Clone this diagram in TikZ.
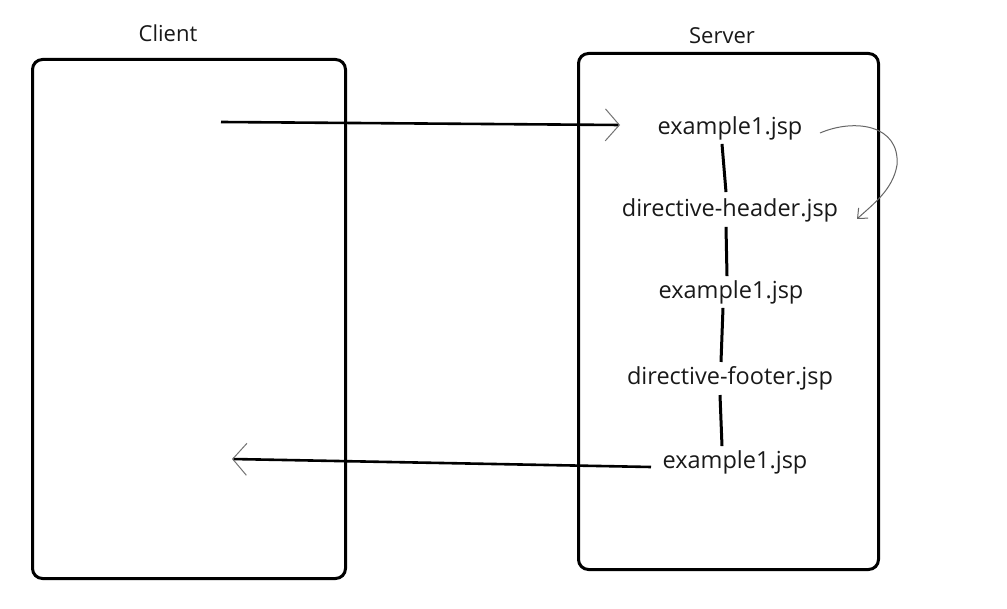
\documentclass[tikz,border=0pt]{standalone}
\usepackage{fontspec}
\setmainfont{Open Sans}
\usetikzlibrary{arrows.meta}
\begin{document}
\begin{tikzpicture}[x=1pt,y=-1pt,
  panel/.style={draw=black,line width=3pt,rounded corners=10pt},
  title/.style={font=\fontsize{22}{26}\selectfont,text=black!90},
  file/.style={font=\fontsize{23.5}{27}\selectfont,text=black!90,inner sep=0pt},
  link/.style={line width=3pt,black},
  flow/.style={line width=2.6pt,black,-{Straight Barb[length=14pt,width=32pt,line width=1pt,color=black!55]}},
  loopback/.style={line width=1pt,black!60,-{Straight Barb[length=8pt,width=14pt,line width=1pt]}}]
\useasboundingbox (0,0) rectangle (1007,609);
\fill[white] (0,0) rectangle (1007,609);
% panels
\node[panel,minimum width=313pt,minimum height=519pt,anchor=north west] (client) at (31,58) {};
\node[panel,minimum width=300pt,minimum height=516pt,anchor=north west] (server) at (577,52) {};
\node[title] (clientlbl) at (168,33) {Client};
\node[title] (serverlbl) at (722,36) {Server};
% files
\node[file] (ex1) at (730,128) {example1.jsp};
\node[file] (hdr) at (730,210) {directive-header.jsp};
\node[file] (ex2) at (731,292) {example1.jsp};
\node[file] (ftr) at (730,378) {directive-footer.jsp};
\node[file] (ex3) at (735,462) {example1.jsp};
% links
\draw[link] ([xshift=-8pt,yshift=-4pt]ex1.south) -- ([xshift=-4pt,yshift=6pt]hdr.north);
\draw[link] ([xshift=-4pt,yshift=-5pt]hdr.south) -- ([xshift=-4pt,yshift=4pt]ex2.north);
\draw[link] ([xshift=-8pt,yshift=-4pt]ex2.south) -- ([xshift=-9pt,yshift=4pt]ftr.north);
\draw[link] ([xshift=-10pt,yshift=-5pt]ftr.south) -- ([xshift=-13pt,yshift=4pt]ex3.north);
% request / response
\coordinate (reqstart) at (221,122);
\coordinate (reqend) at (620,125);
\coordinate (respstart) at (651,467);
\coordinate (respend) at (232,459);
\draw[flow] (reqstart) -- (reqend);
\draw[flow] (respstart) -- (respend);
% loop arrow
\coordinate (loopstart) at (820,133);
\coordinate (loopmid) at (897,165);
\coordinate (loopend) at (857,219);
\draw[loopback] (loopstart) .. controls (855,118) and (900,125) .. (loopmid) .. controls (893,190) and (872,205) .. (loopend);
\end{tikzpicture}
\end{document}
